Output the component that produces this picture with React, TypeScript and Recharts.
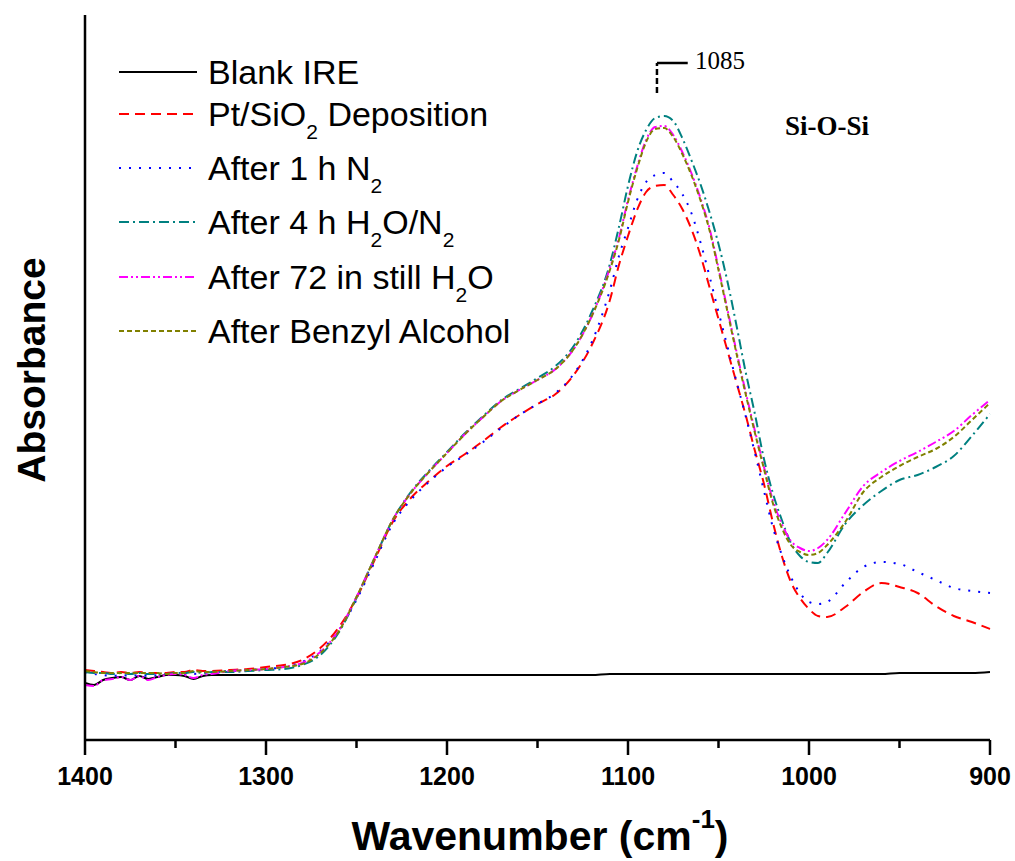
import React from 'react';
import { LineChart, Line, XAxis, YAxis, Legend, ReferenceLine } from 'recharts';

// wavenumber grid (cm-1), finer where the spectra wiggle or peak
const wavenumbers = [
  1400, 1395, 1390, 1385, 1380, 1375, 1370, 1365, 1360, 1355, 1350, 1345, 1340, 1335, 1330,
  1320, 1310, 1300, 1290, 1280, 1270, 1260, 1250, 1240, 1230, 1220, 1210, 1200, 1190, 1180,
  1170, 1160, 1150, 1140, 1130, 1120,
  1110, 1105, 1100, 1095, 1090, 1085, 1080, 1075, 1070, 1065, 1060, 1055, 1050, 1045, 1040,
  1035, 1030, 1025, 1020, 1015, 1010, 1005, 1000, 995, 990,
  980, 970, 960, 950, 940, 930, 920, 910, 900,
];

// absorbance, milli-units (a.u.)
const blankIre = [
  -9, -11, -6, -4, -3, -6, -2, -5, -3, -1, -1, -2, -5, -2, -1,
  -1, -1, -1, -1, -1, -1, -1, -1, -1, -1, -1, -1, -1, -1, -1, -1, -1, -1, -1, -1, -1,
  0, 0, 0, 0, 0, 0, 0, 0, 0, 0, 0, 0, 0, 0, 0, 0, 0, 0, 0, 0, 0, 0, 0, 0, 0,
  0, 0, 0, 1, 1, 1, 1, 1, 2,
];
const ptDeposition = [
  4, 3, 2, 1, 2, 1, 2, 1, 1, 1, 2, 2, 4, 3, 3,
  4, 5, 7, 9, 14, 26, 46, 76, 114, 152, 176, 193, 208, 220, 233, 247, 259, 270, 280, 299, 329,
  374, 409, 438, 464, 482, 488, 489, 479, 465, 445, 419, 387, 355, 323, 291, 259, 224, 191, 152, 118, 92, 76, 65, 58, 57,
  67, 82, 91, 87, 81, 68, 58, 52, 45,
];
const afterN2 = [
  2, 0, -1, -2, -1, -2, -1, -2, -1, 0, 1, 0, 0, 1, 2,
  3, 4, 5, 7, 12, 23, 43, 74, 112, 150, 174, 192, 207, 219, 232, 246, 259, 270, 281, 300, 332,
  384, 418, 446, 474, 492, 499, 501, 492, 480, 461, 432, 398, 362, 327, 292, 258, 222, 184, 147, 119, 97, 81, 72, 70, 72,
  91, 107, 112, 110, 102, 94, 86, 83, 81,
];
const afterH2oN2 = [
  2, 1, 1, 0, 1, 0, 1, 0, 0, 0, 1, 1, 2, 1, 2,
  2, 3, 4, 5, 9, 19, 41, 76, 116, 154, 182, 203, 222, 241, 258, 274, 285, 296, 308, 328, 362,
  410, 447, 488, 522, 544, 556, 558, 553, 536, 514, 490, 462, 430, 392, 348, 302, 261, 216, 181, 154, 131, 118, 112, 111, 121,
  150, 169, 183, 194, 199, 207, 218, 238, 260,
];
const afterStillH2o = [
  -11, -12, -6, -5, -3, -6, -2, -6, -3, -1, 0, -1, -4, -1, 0,
  3, 4, 5, 7, 11, 22, 43, 77, 116, 154, 181, 202, 221, 240, 257, 273, 284, 294, 305, 325, 358,
  406, 436, 474, 507, 534, 547, 548, 539, 522, 501, 476, 446, 406, 364, 322, 282, 244, 208, 174, 150, 133, 126, 123, 126, 134,
  161, 188, 202, 213, 222, 232, 243, 259, 274,
];
const afterBenzyl = [
  3, 2, 1, 1, 1, 1, 1, 1, 1, 0, 1, 1, 3, 2, 2,
  3, 4, 5, 7, 10, 21, 42, 77, 116, 154, 181, 202, 221, 240, 257, 273, 284, 294, 305, 325, 358,
  404, 434, 472, 505, 532, 545, 546, 537, 520, 499, 474, 444, 404, 362, 320, 280, 242, 206, 171, 146, 129, 122, 119, 121, 129,
  152, 182, 197, 208, 217, 225, 237, 254, 271,
];

const seriesKeys = ['blank', 'pt', 'n2', 'h2o', 'still', 'benzyl'];
const seriesNames = [
  'Blank IRE',
  'Pt/SiO_2 Deposition',
  'After 1 h N_2',
  'After 4 h H_2O/N_2',
  'After 72 in still H_2O',
  'After Benzyl Alcohol',
];
const seriesColors = ['#000000', '#ff0000', '#0000ff', '#008080', '#ff00ff', '#808000'];
const seriesDashes = ['', '10 6', '2 8', '10 4 2 4', '9 3 2 3 2 3', '5 3'];

const xTicks = [1400, 1350, 1300, 1250, 1200, 1150, 1100, 1050, 1000, 950, 900];

const data = wavenumbers.map((wn, i) => ({
  wn,
  blank: blankIre[i],
  pt: ptDeposition[i],
  n2: afterN2[i],
  h2o: afterH2oN2[i],
  still: afterStillH2o[i],
  benzyl: afterBenzyl[i],
}));

const ARIAL = '"Liberation Sans", Arial, sans-serif';
const TIMES = '"Liberation Serif", "Times New Roman", serif';

const withSubs = (s: string) =>
  s.split(/_(\d)/).map((part, i) =>
    i % 2 === 1 ? (
      <tspan key={i} fontSize={21} dy={13}>{part}</tspan>
    ) : (
      <tspan key={i} dy={i > 0 ? -13 : 0}>{part}</tspan>
    )
  );

const legendLineY = [72, 114, 168, 222, 277, 331];

const renderLegend = () => (
  <svg width={560} height={360} style={{ position: 'absolute', left: 0, top: 0, overflow: 'visible' }}>
    {seriesNames.map((name, i) => (
      <g key={name}>
        <line
          x1={119}
          x2={197}
          y1={legendLineY[i]}
          y2={legendLineY[i]}
          stroke={seriesColors[i]}
          strokeWidth={2}
          strokeDasharray={seriesDashes[i] || undefined}
        />
        <text x={208} y={legendLineY[i] + 11.5} fontSize={34} fontFamily={ARIAL} fill="#000">
          {withSubs(name)}
        </text>
      </g>
    ))}
  </svg>
);

const WaveTick = (props: any) => {
  const { x, y, payload } = props;
  const major = payload.value % 100 === 0;
  return (
    <g>
      <line x1={x} x2={x} y1={y} y2={y + (major ? 15 : 8)} stroke="#000" strokeWidth={2.5} />
      {major && (
        <text x={x} y={y + 45} textAnchor="middle" fontSize={25} fontWeight="bold" fontFamily={ARIAL} fill="#000">
          {payload.value}
        </text>
      )}
    </g>
  );
};

const XLabel = () => (
  <text x={540} y={850} textAnchor="middle" fontSize={41} fontWeight="bold" fontFamily={ARIAL} fill="#000">
    Wavenumber (cm
    <tspan fontSize={26} dy={-22}>-1</tspan>
    <tspan dy={22}>)</tspan>
  </text>
);

const YLabel = () => (
  <text
    x={45}
    y={370}
    transform="rotate(-90 45 370)"
    textAnchor="middle"
    fontSize={39}
    fontWeight="bold"
    fontFamily={ARIAL}
    fill="#000"
  >
    Absorbance
  </text>
);

export default function App() {
  return (
    <div style={{ position: 'absolute', left: 0, top: 0, width: 1015, height: 861, background: '#fff' }}>
      <LineChart width={1015} height={861} data={data} margin={{ top: 15, right: 25, left: 0, bottom: 0 }}>
        <XAxis
          dataKey="wn"
          type="number"
          domain={[900, 1400]}
          reversed
          ticks={xTicks}
          interval={0}
          tick={(p: any) => <WaveTick {...p} />}
          tickLine={false}
          tickSize={0}
          tickMargin={0}
          height={121}
          axisLine={{ stroke: '#000', strokeWidth: 2.5 }}
          label={() => <XLabel />}
        />
        <YAxis
          type="number"
          domain={[-66, 659]}
          width={85}
          tick={false}
          tickLine={false}
          axisLine={{ stroke: '#000', strokeWidth: 2.5 }}
          label={() => <YLabel />}
        />
        <Legend
          layout="horizontal"
          verticalAlign="middle"
          align="center"
          wrapperStyle={{ top: 0, left: 0, width: 560, height: 360 }}
          content={renderLegend}
        />
        {seriesKeys.map((key, i) => (
          <Line
            key={key}
            dataKey={key}
            name={seriesNames[i]}
            type="monotone"
            stroke={seriesColors[i]}
            strokeWidth={2}
            strokeDasharray={seriesDashes[i] || undefined}
            dot={false}
            activeDot={false}
            isAnimationActive={false}
          />
        ))}
        <ReferenceLine
          segment={[{ x: 1084, y: 581 }, { x: 1084, y: 611 }]}
          stroke="#000"
          strokeWidth={2.5}
          strokeDasharray="6 3"
          label={() => (
            <text x={785} y={135} fontSize={27} fontWeight="bold" fontFamily={TIMES} fill="#000">
              Si-O-Si
            </text>
          )}
        />
        <ReferenceLine
          segment={[{ x: 1084, y: 611 }, { x: 1067, y: 611 }]}
          stroke="#000"
          strokeWidth={2.5}
          label={() => (
            <text x={695} y={69} fontSize={25} fontFamily={TIMES} fill="#000">
              1085
            </text>
          )}
        />
      </LineChart>
    </div>
  );
}
